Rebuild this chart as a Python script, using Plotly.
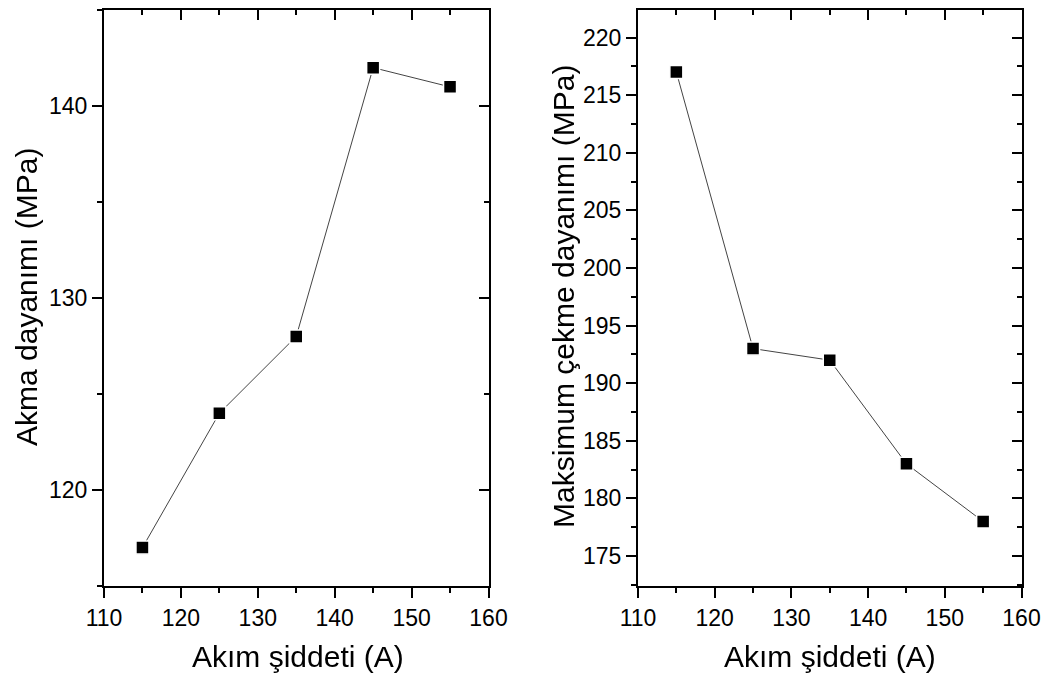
import plotly.graph_objects as go

W, H = 1051, 678

current = [115, 125, 135, 145, 155]
yield_strength = [117, 124, 128, 142, 141]
tensile_strength = [217, 193, 192, 183, 178]

x_title = "Akım şiddeti (A)"
y1_title = "Akma dayanımı (MPa)"
y2_title = "Maksimum çekme dayanımı (MPa)"

FONT = "Liberation Sans, Arial, sans-serif"

def px_x(p):
    return p / W

def px_y(p):
    return 1 - p / H

dom1 = [px_x(104), px_x(488.5)]
dom2 = [px_x(638), px_x(1021.5)]
ydom = [px_y(586), px_y(9.5)]

fig = go.Figure()

marker = dict(symbol="square", size=13, color="black", line=dict(color="white", width=1.5))
line = dict(color="#444444", width=1)

fig.add_trace(go.Scatter(x=current, y=yield_strength, mode="lines+markers",
                         marker=marker, line=line, xaxis="x", yaxis="y", hoverinfo="x+y"))
fig.add_trace(go.Scatter(x=current, y=tensile_strength, mode="lines+markers",
                         marker=marker, line=line, xaxis="x2", yaxis="y2", hoverinfo="x+y"))
# invisible traces for mirrored (top/right) axes
fig.add_trace(go.Scatter(x=current, y=yield_strength, mode="markers", opacity=0,
                         xaxis="x3", yaxis="y3", hoverinfo="skip"))
fig.add_trace(go.Scatter(x=current, y=tensile_strength, mode="markers", opacity=0,
                         xaxis="x4", yaxis="y4", hoverinfo="skip"))

tickfont = dict(family=FONT, size=23, color="black")

def xax(dom, anchor, side="bottom", ticks="outside", labels=True, overlay=None):
    d = dict(domain=dom, range=[110, 160], anchor=anchor, side=side,
             showline=True, linecolor="black", linewidth=2, automargin=False,
             ticks=ticks, ticklen=10, tickwidth=2, tickcolor="black",
             tick0=110, dtick=10, showgrid=False, zeroline=False,
             showticklabels=labels, tickfont=tickfont,
             minor=dict(ticks=ticks, ticklen=5, tickwidth=2, tickcolor="black", dtick=5, showgrid=False))
    if overlay:
        d["overlaying"] = overlay
    return d

def yax(rng, dtick, mdtick, anchor, side="left", ticks="outside", labels=True, overlay=None, tick0=0):
    d = dict(domain=ydom, range=rng, anchor=anchor, side=side,
             showline=True, linecolor="black", linewidth=2, automargin=False,
             ticks=ticks, ticklen=10, tickwidth=2, tickcolor="black",
             tick0=tick0, dtick=dtick, showgrid=False, zeroline=False,
             showticklabels=labels, tickfont=tickfont,
             minor=dict(ticks=ticks, ticklen=5, tickwidth=2, tickcolor="black", dtick=mdtick, showgrid=False))
    if overlay:
        d["overlaying"] = overlay
    return d

r1 = [115, 145.03]
r2 = [172.4, 222.43]

fig.update_layout(
    width=W, height=H,
    margin=dict(l=0, r=0, t=0, b=0, autoexpand=False),
    paper_bgcolor="white", plot_bgcolor="white",
    showlegend=False,
    font=dict(family=FONT, color="black"),
    xaxis=xax(dom1, "y"),
    yaxis=yax(r1, 10, 5, "x"),
    xaxis2=xax(dom2, "y2"),
    yaxis2=yax(r2, 5, 2.5, "x2"),
    xaxis3=xax(dom1, "y3", side="top", ticks="inside", labels=False, overlay="x"),
    yaxis3=yax(r1, 10, 5, "x3", side="right", ticks="inside", labels=False, overlay="y"),
    xaxis4=xax(dom2, "y4", side="top", ticks="inside", labels=False, overlay="x2"),
    yaxis4=yax(r2, 5, 2.5, "x4", side="right", ticks="inside", labels=False, overlay="y2"),
)

tfont = dict(family=FONT, size=30, color="black")
fig.add_annotation(text=x_title, x=px_x(298), y=px_y(656), xref="paper", yref="paper",
                   showarrow=False, font=tfont, xanchor="center", yanchor="middle")
fig.add_annotation(text=x_title, x=px_x(830), y=px_y(656), xref="paper", yref="paper",
                   showarrow=False, font=tfont, xanchor="center", yanchor="middle")
fig.add_annotation(text=y1_title, x=px_x(26), y=px_y(297), xref="paper", yref="paper",
                   showarrow=False, font=tfont, textangle=-90, xanchor="center", yanchor="middle")
fig.add_annotation(text=y2_title, x=px_x(563), y=px_y(297), xref="paper", yref="paper",
                   showarrow=False, font=tfont, textangle=-90, xanchor="center", yanchor="middle")

fig.write_html("out.html", config={"displayModeBar": False},
               post_script="document.body.style.margin='0';document.body.style.overflow='hidden';")
